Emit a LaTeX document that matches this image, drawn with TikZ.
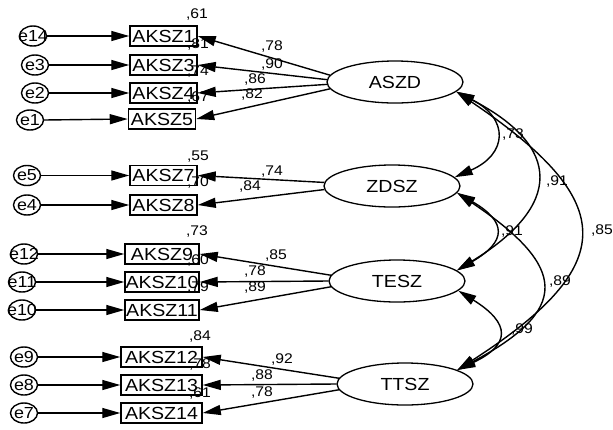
\documentclass[tikz,border=0pt]{standalone}
\usepackage{fontspec}
\setmainfont{Liberation Sans}[FakeStretch=1.12]
\usetikzlibrary{arrows.meta,shapes.geometric}
\begin{document}
\begin{tikzpicture}[x=1pt,y=-1pt,
  obs/.style={draw,line width=1.5pt,minimum height=20pt,inner sep=0pt,font=\fontsize{17.5}{17.5}\selectfont},
  err/.style={draw,ellipse,line width=1.4pt,minimum width=27pt,minimum height=20pt,inner sep=0pt,font=\fontsize{16}{16}\selectfont},
  lat/.style={draw,ellipse,line width=1.3pt,minimum width=136pt,minimum height=42pt,inner sep=0pt,font=\fontsize{17.5}{17.5}\selectfont},
  tip/.tip={Triangle[length=18pt,width=10pt]},
  arr/.style={line width=1.4pt,-tip},
  cor/.style={line width=1.4pt,tip-tip},
  lbl/.style={font=\fontsize{14}{14}\selectfont,inner sep=0pt}]
\useasboundingbox (0,0) rectangle (613,429);

% observed variables
\node[obs,minimum width=67pt] (v1) at (163.5,36) {AKSZ1};
\node[obs,minimum width=67pt] (v3) at (163.5,65) {AKSZ3};
\node[obs,minimum width=67pt] (v4) at (163.5,93) {AKSZ4};
\node[obs,minimum width=67pt] (v5) at (162,119) {AKSZ5};
\node[obs,minimum width=67pt] (v7) at (163.5,175.5) {AKSZ7};
\node[obs,minimum width=67pt] (v8) at (163.5,205) {AKSZ8};
\node[obs,minimum width=74pt] (v9) at (162,254) {AKSZ9};
\node[obs,minimum width=74pt] (v10) at (162,282) {AKSZ10};
\node[obs,minimum width=74pt] (v11) at (162,310) {AKSZ11};
\node[obs,minimum width=81pt] (v12) at (161.5,357) {AKSZ12};
\node[obs,minimum width=81pt] (v13) at (161.5,385) {AKSZ13};
\node[obs,minimum width=81pt] (v14) at (161.5,413) {AKSZ14};

% errors
\node[err] (e14) at (33,36) {\makebox[0pt]{e14}};
\node[err] (e3) at (35,65) {\makebox[0pt]{e3}};
\node[err] (e2) at (35,93) {\makebox[0pt]{e2}};
\node[err] (e1) at (30,120) {\makebox[0pt]{e1}};
\node[err] (e5) at (27,175.5) {\makebox[0pt]{e5}};
\node[err] (e4) at (27,205) {\makebox[0pt]{e4}};
\node[err] (e12) at (24,254) {\makebox[0pt]{e12}};
\node[err] (e11) at (22,282) {\makebox[0pt]{e11}};
\node[err] (e10) at (22,310) {\makebox[0pt]{e10}};
\node[err] (e9) at (24,357) {\makebox[0pt]{e9}};
\node[err] (e8) at (24,385) {\makebox[0pt]{e8}};
\node[err] (e7) at (24,413) {\makebox[0pt]{e7}};

% latent variables
\node[lat] (ASZD) at (395,82) {ASZD};
\node[lat] (ZDSZ) at (392,186) {ZDSZ};
\node[lat] (TESZ) at (397,281) {TESZ};
\node[lat] (TTSZ) at (405,384) {TTSZ};

% error arrows
\foreach \e/\v in {e14/v1,e3/v3,e2/v4,e1/v5,e5/v7,e4/v8,e12/v9,e11/v10,e10/v11,e9/v12,e8/v13,e7/v14}
  \draw[arr] (\e.east) -- (\v.west);

% loadings
\draw[arr] (ASZD.174) -- (v1.east);
\draw[arr] (ASZD.178) -- (v3.east);
\draw[arr] (ASZD.182) -- (v4.east);
\draw[arr] (ASZD.186) -- (v5.east);
\draw[arr] (ZDSZ.177) -- (v7.east);
\draw[arr] (ZDSZ.183) -- (v8.east);
\draw[arr] (TESZ.175) -- (v9.east);
\draw[arr] (TESZ.180) -- (v10.east);
\draw[arr] (TESZ.185) -- (v11.east);
\draw[arr] (TTSZ.175) -- (v12.east);
\draw[arr] (TTSZ.180) -- (v13.east);
\draw[arr] (TTSZ.185) -- (v14.east);

% correlations
\draw[cor] (ASZD.-9) .. controls +(53,27) and +(53,-23) .. (ZDSZ.8);
\draw[cor] (ASZD.-9) .. controls +(106,55) and +(106,-65) .. (TESZ.10);
\draw[cor] (ASZD.-9) .. controls +(163,110) and +(163,-105) .. (TTSZ.15);
\draw[cor] (ZDSZ.-6) .. controls +(50,29) and +(50,-29) .. (TESZ.10);
\draw[cor] (ZDSZ.-6) .. controls +(112,75) and +(112,-60) .. (TTSZ.15);
\draw[cor] (TESZ.-9) .. controls +(53,33) and +(53,-25) .. (TTSZ.15);

% labels
\node[lbl] (l1) at (197,15) {,61};
\node[lbl] (l2) at (198,45) {,81};
\node[lbl] (l3) at (198,72) {,74};
\node[lbl] (l4) at (198,98) {,67};
\node[lbl] (l5) at (272,47) {,78};
\node[lbl] (l6) at (272,65) {,90};
\node[lbl] (l7) at (255,80) {,86};
\node[lbl] (l8) at (252,95) {,82};
\node[lbl] (l9) at (198,157) {,55};
\node[lbl] (l10) at (198,183) {,70};
\node[lbl] (l11) at (272,172) {,74};
\node[lbl] (l12) at (250,187) {,84};
\node[lbl] (l13) at (197,232) {,73};
\node[lbl] (l14) at (198,261) {,60};
\node[lbl] (l15) at (198,288) {,79};
\node[lbl] (l16) at (276,256) {,85};
\node[lbl] (l17) at (255,272) {,78};
\node[lbl] (l18) at (255,288) {,89};
\node[lbl] (l19) at (200,337) {,84};
\node[lbl] (l20) at (200,365) {,78};
\node[lbl] (l21) at (200,393) {,61};
\node[lbl] (l22) at (282,359) {,92};
\node[lbl] (l23) at (262,376) {,88};
\node[lbl] (l24) at (262,392) {,78};
\node[lbl] (c1) at (513,135) {,73};
\node[lbl] (c2) at (557,182) {,91};
\node[lbl] (c3) at (602,231) {,85};
\node[lbl] (c4) at (512,232) {,91};
\node[lbl] (c5) at (560,282) {,89};
\node[lbl] (c6) at (522,330) {,99};
\end{tikzpicture}
\end{document}
